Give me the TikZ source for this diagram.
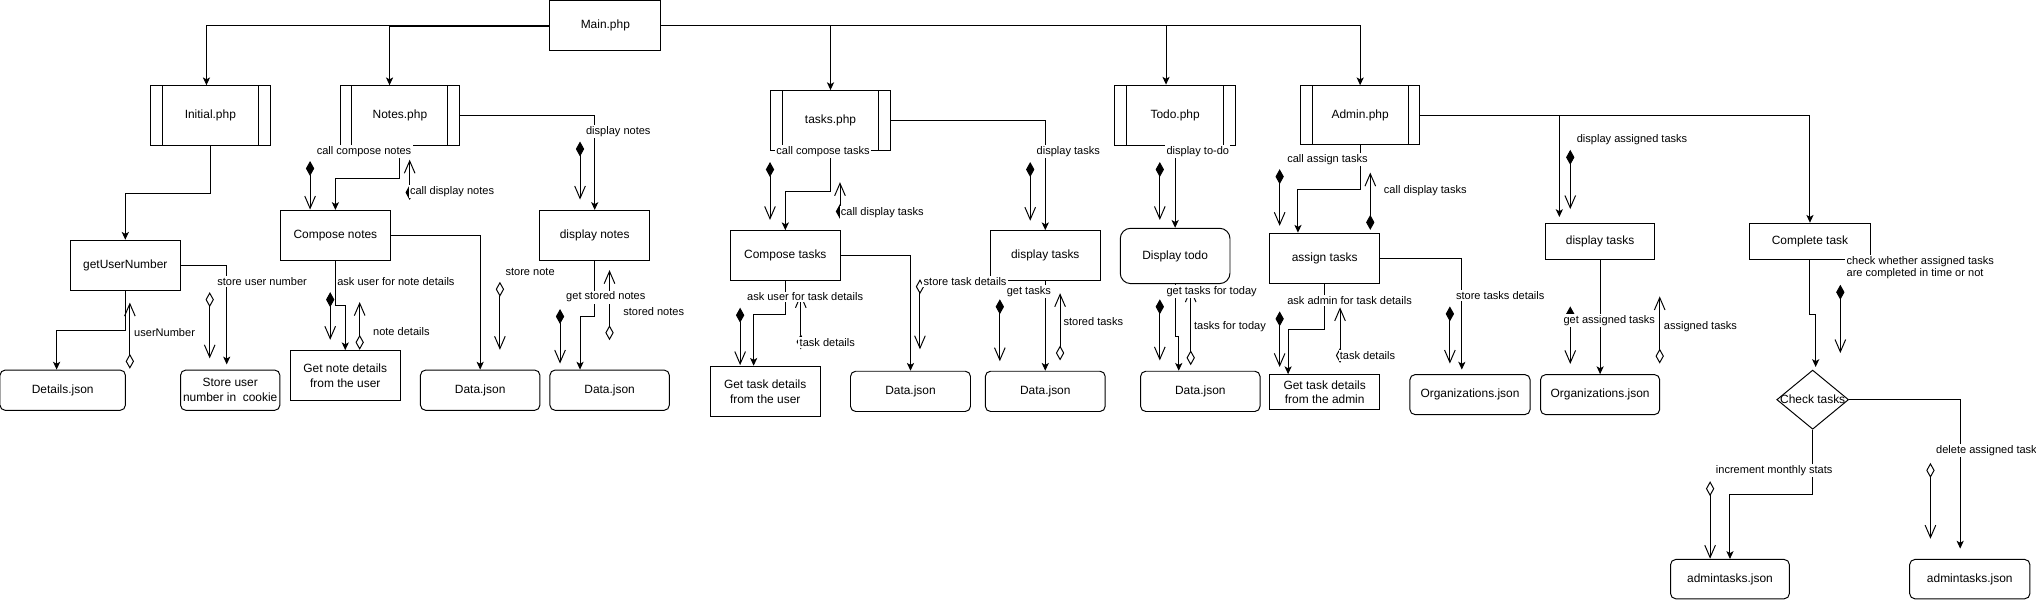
\documentclass[tikz,border=0pt]{standalone}
\usepackage{fontspec}
\setmainfont{Liberation Sans}
\usepackage{tikz}
\usetikzlibrary{arrows.meta, positioning}
\usetikzlibrary{shapes.geometric}
\newcommand{\aggline}[5]{%
    \coordinate (#2-a) at (#3,#4);
    \coordinate (#2-b) at (#3,#5);
    \draw[#1] (#2-a) -- (#2-b);}

\begin{document}
\begin{tikzpicture}[
            x=1pt, y=-1pt,
            line width=0.75pt,
            block/.style={
                rectangle,
                draw,
                font=\fontsize{9.2}{11.4}\selectfont,
                align=center,
                inner sep=1pt
            },
            module/.style={
                block,
                path picture={
                    \draw ([xshift=9pt]path picture bounding box.north west) -- ([xshift=9pt]path picture bounding box.south west);
                    \draw ([xshift=-9pt]path picture bounding box.north east) -- ([xshift=-9pt]path picture bounding box.south east);
                }
            },
            store/.style={block, rounded corners=4pt},
            decision/.style={diamond, draw, inner sep=0pt},
            lbl/.style={fill=white, inner sep=1pt, anchor=west, font=\fontsize{8.5}{9.8}\selectfont},
            conn/.style={-{Stealth[length=6pt,width=5.5pt,inset=1.5pt]}},
            fagg/.style={{Diamond[length=11.5pt,width=6.4pt]}-{Straight Barb[length=9.5pt,width=8.2pt]}},
            oagg/.style={{Diamond[length=11.5pt,width=6.4pt,fill=white]}-{Straight Barb[length=9.5pt,width=8.2pt]}}
        ]
            \useasboundingbox (0,0) rectangle (1568,463);

            % Nodes
            \node[block, minimum width=85.5pt, minimum height=39pt] (main) at (466.2,19.5) {Main.php};

            \node[module, minimum width=92pt, minimum height=46pt] (initial) at (162,89) {Initial.php};
            \node[module, minimum width=92pt, minimum height=46pt] (notes) at (308,89) {Notes.php};
            \node[module, minimum width=92.4pt, minimum height=46.3pt] (tasks) at (639.6,92.9) {tasks.php};
            \node[module, minimum width=93pt, minimum height=46.7pt] (todo) at (905,88.9) {Todo.php};
            \node[module, minimum width=92pt, minimum height=45.6pt] (admin) at (1047.5,88.8) {Admin.php};

            \node[block, minimum width=85pt, minimum height=39pt] (getuser) at (96.5,204.5) {getUserNumber};
            \node[store, minimum width=96.6pt, minimum height=31pt] (details) at (48.3,300.5) {Details.json};
            \node[store, minimum width=76.5pt, minimum height=31pt] (cookie) at (177.3,300.5) {Store user\\number in~~cookie};

            \node[block, minimum width=85pt, minimum height=38.5pt] (composenotes) at (258.3,181.3) {Compose notes};
            \node[block, minimum width=84.3pt, minimum height=38.5pt] (getnote) at (265.9,289.3) {Get note details\\from the user};
            \node[store, minimum width=92pt, minimum height=31pt] (datanotes1) at (369.8,300.5) {Data.json};
            \node[block, minimum width=84.5pt, minimum height=38.5pt] (displaynotes) at (458,181.3) {display notes};
            \node[store, minimum width=92pt, minimum height=31pt] (datanotes2) at (469.5,300.5) {Data.json};

            \node[block, minimum width=84.3pt, minimum height=38.7pt] (composetasks) at (604.8,197) {Compose tasks};
            \node[block, minimum width=84.6pt, minimum height=38.7pt] (gettask) at (589.3,301.4) {Get task details\\from the user};
            \node[store, minimum width=92.4pt, minimum height=31pt] (datatasks1) at (701.2,301.4) {Data.json};
            \node[block, minimum width=84.6pt, minimum height=38.7pt] (displaytasks) at (805,197) {display tasks};
            \node[store, minimum width=92.3pt, minimum height=31pt] (datatasks2) at (805,301.4) {Data.json};

            \node[store, rounded corners=8pt, minimum width=84.5pt, minimum height=42.6pt] (displaytodo) at (905,197.1) {Display todo};
            \node[store, minimum width=92pt, minimum height=31pt] (datatodo) at (924.4,301.4) {Data.json};

            \node[block, minimum width=84.5pt, minimum height=38.5pt] (assign) at (1020.2,198.8) {assign tasks};
            \node[block, minimum width=84.5pt, minimum height=27pt] (getadmin) at (1020.2,302) {Get task details\\from the admin};
            \node[store, minimum width=92.6pt, minimum height=30.8pt] (orgs1) at (1132.1,303.9) {Organizations.json};
            \node[block, minimum width=84.2pt, minimum height=28.2pt] (displayassigned) at (1232.3,186) {display tasks};
            \node[store, minimum width=91.8pt, minimum height=30.8pt] (orgs2) at (1232.3,303.9) {Organizations.json};
            \node[block, minimum width=92.6pt, minimum height=28.2pt] (complete) at (1393.9,186) {Complete task};
            \node[decision, minimum width=55.3pt, minimum height=45.6pt,
                label={[font=\fontsize{9.2}{11.4}\selectfont]center:Check tasks}] (check) at (1396,307.8) {};
            \node[store, minimum width=91.5pt, minimum height=30.3pt] (admintasks1) at (1332.3,446) {admintasks.json};
            \node[store, minimum width=92.6pt, minimum height=30.3pt] (admintasks2) at (1517,446) {admintasks.json};

            % Arrows
            \draw[conn] (main.west) -| ([xshift=-3pt]initial.north);
            \draw[conn] ([yshift=-1pt]main.west) -| ([xshift=-8pt]notes.north);
            \draw[conn] (main.east) -| (tasks.north);
            \draw[conn] (main.east) -| ([xshift=-7pt]todo.north);
            \draw[conn] (main.east) -| (admin.north);

            \draw[conn] (initial.south) -- ++(0,36.6) -| (getuser.north);
            \draw[conn] (getuser.south) -- ++(0,30.5) -| ([xshift=-4.7pt]details.north);
            \draw[conn, shorten >=4pt] (getuser.east) -| ([xshift=-2.7pt]cookie.north);

            \draw[conn] (notes.south) -- ++(0,25) -| (composenotes.north);
            \draw[conn] (notes.east) -| (displaynotes.north);
            \draw[conn] (composenotes.east) -| (datanotes1.north);
            \draw[conn] (composenotes.south) -- ++(0,34.5) -| (getnote.north);
            \draw[conn] (displaynotes.south) -- ++(0,42.5) -| ([xshift=-22.8pt]datanotes2.north);

            \draw[conn] (tasks.south) -- ++(0,30.7) -| (composetasks.north);
            \draw[conn] (tasks.east) -| (displaytasks.north);
            \draw[conn] (composetasks.east) -| (datatasks1.north);
            \draw[conn] (composetasks.south) -- ++(0,25.7) -| ([xshift=-8.9pt]gettask.north);
            \draw[conn] (displaytasks.south) -- (datatasks2.north);

            \draw[conn] (todo.south) -- (displaytodo.north);
            \draw[conn] (displaytodo.south) -- ++(0,40.4) -| ([xshift=-16.6pt]datatodo.north);

            \draw[conn] (admin.south) -- ++(0,34.1) -| ([xshift=-20.6pt]assign.north);
            \draw[conn] (assign.south) -- ++(0,35.1) -| ([xshift=-28.2pt]getadmin.north);
            \draw[conn, shorten >=3.5pt] (assign.east) -| ([xshift=-6.3pt]orgs1.north);
            \coordinate (da) at ([xshift=-31.4pt]displayassigned.north);
            \draw[conn, shorten >=4.4pt] (da |- admin.east) -- (da);
            \draw[conn] (displayassigned.south) -- (orgs2.north);
            \draw[conn] (admin.east) -| (complete.north);
            \draw[conn, shorten >=2pt] (complete.south) -- ++(0,41.9) -| ([xshift=2.3pt]check.north);
            \draw[conn] (check.south) -- ++(0,50) -| (admintasks1.north);
            \draw[conn, shorten >=8pt] (check.east) -| ([xshift=-7.4pt]admintasks2.north);

            % Aggregations
            \aggline{oagg}{usernum}{100}{284}{233}
            \aggline{oagg}{storeuser}{161.5}{225}{276}
            \aggline{fagg}{callcompose}{238.8}{124}{161.4}
            \aggline{fagg}{calldisplay}{315.5}{154}{123}
            \aggline{fagg}{asknote}{254.3}{225}{261.7}
            \aggline{oagg}{notedet}{277}{269.4}{232.6}
            \aggline{oagg}{storenote}{385}{217}{269.4}
            \aggline{fagg}{dispnotes}{446.7}{109}{153.7}
            \aggline{fagg}{getstored}{431.3}{238}{280}
            \aggline{oagg}{storednotes}{469.4}{262}{208}

            \aggline{fagg}{calltasks}{593}{124.8}{169.4}
            \aggline{fagg}{calldisptasks}{646.9}{168.6}{140.3}
            \aggline{fagg}{asktask}{570}{237}{281.2}
            \aggline{oagg}{taskdet}{616.7}{269}{226.6}
            \aggline{oagg}{storetask}{708.5}{215}{269}
            \aggline{fagg}{disptasks}{793.4}{124.8}{170}
            \aggline{fagg}{gettasks}{770}{230.5}{278.2}
            \aggline{oagg}{storedtasks}{816.4}{277.6}{225.8}

            \aggline{fagg}{disptodo}{893.2}{124.8}{169.4}
            \aggline{fagg}{gettoday}{893.2}{230.5}{277.6}
            \aggline{oagg}{today}{917}{281.3}{222.2}

            \aggline{fagg}{callassign}{985.5}{130.3}{173.9}
            \aggline{fagg}{calldispadmin}{1055.3}{177}{132.9}
            \aggline{fagg}{askadmin}{985.5}{239.8}{282.6}
            \aggline{oagg}{admindet}{1032}{279.5}{236.7}
            \aggline{fagg}{storeorgs}{1116.6}{236}{280}
            \aggline{fagg}{dispassigned}{1209.3}{115.4}{161}
            \aggline{fagg}{getassigned}{1209.3}{236}{280.3}
            \aggline{oagg}{assigned}{1278.2}{280}{228.3}
            \aggline{fagg}{checkwhether}{1417.3}{219.3}{271.9}
            \aggline{oagg}{increment}{1317}{370.6}{430.3}
            \aggline{oagg}{delete}{1486.7}{356.5}{414.9}

            % Labels
            \node[lbl] (l-usernum) at (102,256) {userNumber};
            \node[lbl] (l-storeuser) at (166,217) {store user number};
            \node[lbl] (l-callcompose) at (242.6,117) {call compose notes};
            \node[lbl] (l-calldisplay) at (314.4,147.6) {call display notes};
            \node[lbl] (l-dispnotes) at (450,101.5) {display notes};
            \node[lbl] (l-asknote) at (258.4,217) {ask user for note details};
            \node[lbl] (l-notedet) at (286,255.5) {note details};
            \node[lbl] (l-storenote) at (388,209.5) {store note};
            \node[lbl] (l-getstored) at (434.7,228.8) {get stored notes};
            \node[lbl] (l-storednotes) at (478.7,240) {stored notes};

            \node[lbl] (l-calltasks) at (596.6,116.6) {call compose tasks};
            \node[lbl] (l-calldisptasks) at (646.2,163.5) {call display tasks};
            \node[lbl] (l-asktask) at (574,228.7) {ask user for task details};
            \node[lbl] (l-taskdet) at (614.5,263.5) {task details};
            \node[lbl] (l-storetask) at (710,217) {store task details};
            \node[lbl] (l-disptasks) at (797,116.6) {display tasks};
            \node[lbl] (l-gettasks) at (774,224.8) {get tasks};
            \node[lbl] (l-storedtasks) at (817.7,248) {stored tasks};

            \node[lbl] (l-disptodo) at (897,116.6) {display to-do};
            \node[lbl] (l-gettoday) at (897,224.8) {get tasks for today};
            \node[lbl] (l-today) at (918.2,251.9) {tasks for today};

            \node[lbl] (l-callassign) at (990,122.6) {call assign tasks};
            \node[lbl] (l-calldispadmin) at (1064.4,147) {call display tasks};
            \node[lbl] (l-askadmin) at (990,231.6) {ask admin for task details};
            \node[lbl] (l-admindet) at (1030.5,273.9) {task details};
            \node[lbl] (l-storeorgs) at (1120,227.8) {store tasks details};
            \node[lbl] (l-dispassigned) at (1213,107.8) {display assigned tasks};
            \node[lbl] (l-getassigned) at (1202.8,247) {get assigned tasks};
            \node[lbl] (l-assigned) at (1280.1,251.3) {assigned tasks};
            \node[lbl, align=left] (l-checkwhether) at (1420.8,206.2) {check whether assigned tasks\\are completed in time or not};
            \node[lbl] (l-increment) at (1320.1,362.4) {increment monthly stats};
            \node[lbl] (l-delete) at (1489.7,347) {delete assigned task};
        \end{tikzpicture}
\end{document}
